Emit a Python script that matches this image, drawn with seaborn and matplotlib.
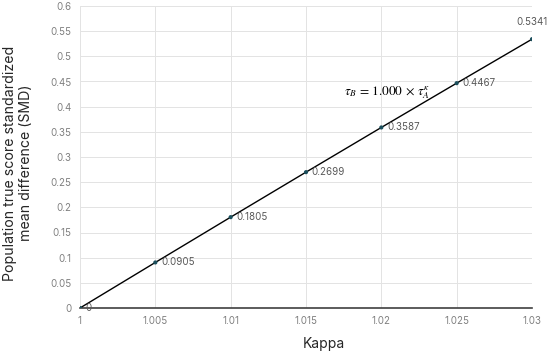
import matplotlib
matplotlib.use('Agg')
from matplotlib import pyplot as plt
import seaborn as sns
import pandas as pd

kappa = [1.0, 1.005, 1.01, 1.015, 1.02, 1.025, 1.03]
smd = [0.0, 0.0905, 0.1805, 0.2699, 0.3587, 0.4467, 0.5341]
point_labels = ['0', '0.0905', '0.1805', '0.2699', '0.3587', '0.4467', '0.5341']
x_ticks = [1, 1.005, 1.01, 1.015, 1.02, 1.025, 1.03]
x_tick_labels = ['1', '1.005', '1.01', '1.015', '1.02', '1.025', '1.03']
y_ticks = [0, 0.05, 0.1, 0.15, 0.2, 0.25, 0.3, 0.35, 0.4, 0.45, 0.5, 0.55, 0.6]
y_tick_labels = ['0', '0.05', '0.1', '0.15', '0.2', '0.25', '0.3', '0.35', '0.4', '0.45', '0.5', '0.55', '0.6']

df = pd.DataFrame({'Kappa': kappa, 'SMD': smd})

sns.set_style('white')
plt.rcParams['font.family'] = ['Inter', 'DejaVu Sans']
plt.rcParams['mathtext.fontset'] = 'stix'

fig = plt.figure(figsize=(5.5, 3.53), dpi=100)
ax = fig.add_axes([80 / 550, 45 / 353, 452 / 550, 302 / 353])

sns.lineplot(data=df, x='Kappa', y='SMD', color='black', linewidth=1.0, ax=ax, zorder=3)
sns.scatterplot(data=df, x='Kappa', y='SMD', color='#1b4f5c', marker='o', s=9,
                edgecolor='none', ax=ax, zorder=4)

for i, (x, y) in enumerate(zip(kappa, smd)):
    if i == len(kappa) - 1:
        ax.annotate(point_labels[i], (x, y), xytext=(0, 9), textcoords='offset points',
                    ha='center', va='bottom', fontsize=7, color='#595959')
    else:
        ax.annotate(point_labels[i], (x, y), xytext=(4, 0), textcoords='offset points',
                    ha='left', va='center', fontsize=7, color='#595959')

ax.text(1.0232, 0.427, r'$\tau_B\,=\,1.000\,\times\,\tau_A^{\kappa}$', fontsize=9.5,
        ha='right', va='center', color='black')

ax.set_xlim(1, 1.03)
ax.set_ylim(0, 0.6)
ax.set_xticks(x_ticks)
ax.set_xticklabels(x_tick_labels)
ax.set_yticks(y_ticks)
ax.set_yticklabels(y_tick_labels)
ax.tick_params(axis='both', length=0, labelsize=7, labelcolor='#808080', pad=6)

ax.grid(True, color='#e3e3e3', linewidth=0.7)
for side in ['top', 'right', 'left']:
    ax.spines[side].set_visible(False)
ax.spines['bottom'].set_color('#404040')
ax.spines['bottom'].set_linewidth(1.2)

ax.set_xlabel('Kappa', fontsize=10, color='#262626')
ax.xaxis.set_label_coords(0.54, -0.095)
ax.set_ylabel('Population true score standardized\nmean difference (SMD)', fontsize=10.2,
              color='#262626')
ax.yaxis.set_label_coords(-0.104, 0.48)

fig.savefig('out.png', dpi=100)
